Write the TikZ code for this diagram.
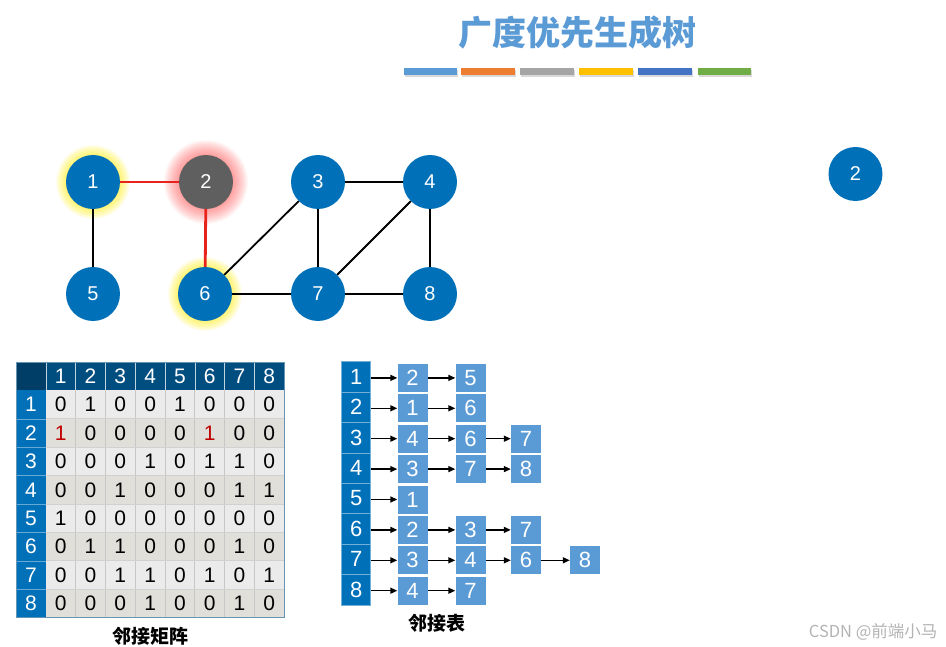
\documentclass[tikz,border=0pt]{standalone}
\usepackage{fontspec}
\setmainfont{Liberation Sans}
\newfontfamily\cjk{Noto Sans CJK SC}
\usetikzlibrary{arrows.meta}
\definecolor{nodeblue}{HTML}{0070B8}
\definecolor{hdrblue}{HTML}{004D80}
\definecolor{listblue}{HTML}{5B9BD5}
\definecolor{titleblue}{HTML}{5B9BD5}
\definecolor{darknode}{HTML}{5F5F5F}
\definecolor{rowa}{HTML}{EBEBEB}
\definecolor{rowb}{HTML}{E0DFDA}
\definecolor{mred}{HTML}{C00000}
\definecolor{edgered}{HTML}{E8231B}
\definecolor{barA}{HTML}{5B9BD5}
\definecolor{barB}{HTML}{ED7D31}
\definecolor{barC}{HTML}{A5A5A5}
\definecolor{barD}{HTML}{FFC000}
\definecolor{barE}{HTML}{4472C4}
\definecolor{barF}{HTML}{70AD47}
\definecolor{wmgray}{HTML}{B4B4B4}
\tikzset{
  gnode/.style={circle, fill=nodeblue, minimum size=54pt, inner sep=0pt, text=white, font=\fontsize{20}{20}\selectfont},
  gedge/.style={line width=1.8pt, black},
  redge/.style={line width=2.8pt, edgered},
  mcell/.style={inner sep=0pt, minimum width=29.8pt, minimum height=28.4pt, font=\fontsize{21}{21}\selectfont},
  lcell/.style={inner sep=0pt, minimum width=29pt, minimum height=30.4pt, fill=nodeblue, draw=nodeblue!55!white, line width=0.6pt, text=white, font=\fontsize{22}{22}\selectfont},
  lbox/.style={inner sep=0pt, minimum width=30pt, minimum height=28pt, fill=listblue, text=white, font=\fontsize{22}{22}\selectfont},
  larrow/.style={line width=1.4pt, -{Triangle[length=7pt,width=6pt]}},
  caption/.style={font=\cjk\bfseries\fontsize{19}{19}\selectfont}
}
\begin{document}
\begin{tikzpicture}[x=1pt,y=-1pt]
\useasboundingbox (0,0) rectangle (946,647);
\fill[white] (0,0) rectangle (946,647);

% title
\node[font=\cjk\bfseries\fontsize{34}{40}\selectfont, text=titleblue] (title) at (577,33) {广度优先生成树};
\foreach \xa/\xb/\col in {404/457/barA, 461/515/barB, 520/574/barC, 579/633/barD, 638/692/barE, 698/751/barF}{
  \fill[black!15] (\xa+1,70) rectangle (\xb+1,77);
  \fill[\col] (\xa,68) rectangle (\xb,75);
}

% glows
\foreach \r in {27,...,37}{
  \fill[yellow, opacity=0.065] (93,182) circle[radius=\r pt];
  \fill[yellow, opacity=0.065] (205,294) circle[radius=\r pt];
}
\foreach \r in {27,...,42}{
  \fill[red!75, opacity=0.038] (206,182) circle[radius=\r pt];
}

% graph nodes
\node[gnode] (n1) at (93,182) {1};
\node[gnode, fill=darknode] (n2) at (206,182) {2};
\node[gnode] (n3) at (318,182) {3};
\node[gnode] (n4) at (430,182) {4};
\node[gnode] (n5) at (93,294) {5};
\node[gnode] (n6) at (205,294) {6};
\node[gnode] (n7) at (318,294) {7};
\node[gnode] (n8) at (430,294) {8};
\node[gnode] (t2) at (855.5,174) {2};

% edges
\draw[redge] (n1) -- (n2);
\draw[redge] (n2) -- (n6);
\draw[gedge] (n1) -- (n5);
\draw[gedge] (n3) -- (n4);
\draw[gedge] (n3) -- (n6);
\draw[gedge] (n3) -- (n7);
\draw[gedge] (n4) -- (n7);
\draw[gedge] (n4) -- (n8);
\draw[gedge] (n6) -- (n7);
\draw[gedge] (n7) -- (n8);

% adjacency matrix
\fill[hdrblue] (16,362) rectangle (284.2,390.4);
\fill[hdrblue!80!black] (16,362) rectangle (45.8,390.4);
\fill[nodeblue] (16,390.4) rectangle (45.8,617.6);
\foreach \r in {1,...,8}{
  \pgfmathsetmacro\yt{362+\r*28.4}
  \pgfmathsetmacro\yb{362+(\r+1)*28.4}
  \ifodd\r
    \fill[rowa] (45.8,\yt) rectangle (284.2,\yb);
  \else
    \fill[rowb] (45.8,\yt) rectangle (284.2,\yb);
  \fi
}
\foreach \c in {2,...,8}{
  \draw[black!22, line width=0.7pt] (16+\c*29.8,390.4) -- (16+\c*29.8,617.6);
  \draw[white!75!hdrblue, line width=0.5pt] (16+\c*29.8,362) -- (16+\c*29.8,390.4);
}
\draw[white!75!hdrblue, line width=0.5pt] (45.8,362) -- (45.8,390.4);
\foreach \r in {2,...,8}{
  \draw[black!18, line width=0.7pt] (45.8,362+\r*28.4) -- (284.2,362+\r*28.4);
  \draw[nodeblue!60!white, line width=0.6pt] (16,362+\r*28.4) -- (45.8,362+\r*28.4);
}
\draw[hdrblue!60!white, line width=0.7pt] (16,362) rectangle (284.2,617.6);
\foreach \c in {1,...,8}{
  \node[mcell, text=white] (mh\c) at (16+\c*29.8+14.9,376.2) {\c};
  \node[mcell, text=white] (mr\c) at (30.9,362+\c*28.4+14.2) {\c};
}
\foreach \r/\row in {
  1/{0,1,0,0,1,0,0,0},
  2/{\textcolor{mred}{1},0,0,0,0,\textcolor{mred}{1},0,0},
  3/{0,0,0,1,0,1,1,0},
  4/{0,0,1,0,0,0,1,1},
  5/{1,0,0,0,0,0,0,0},
  6/{0,1,1,0,0,0,1,0},
  7/{0,0,1,1,0,1,0,1},
  8/{0,0,0,1,0,0,1,0}}{
  \foreach \v [count=\c] in \row {
    \node[mcell] (m\r-\c) at (16+\c*29.8+14.9,362+\r*28.4+14.2) {\v};
  }
}
\node[caption] (mcap) at (150,636) {邻接矩阵};

% adjacency list
\foreach \i in {1,...,8}{
  \node[lcell] (a\i) at (356.2,361.7+\i*30.4-15.2) {\i};
}
\foreach \i/\lst in {1/{2,5}, 2/{1,6}, 3/{4,6,7}, 4/{3,7,8}, 5/{1}, 6/{2,3,7}, 7/{3,4,6,8}, 8/{4,7}}{
  \foreach \v [count=\k] in \lst {
    \pgfmathsetmacro\bx{{412.5,470.5,526,585}[\k-1]}
    \node[lbox] (b\i-\k) at (\bx,361.7+\i*30.4-15.2+1) {\v};
    \ifnum\k=1
      \draw[larrow] (a\i.east |- b\i-\k.west) -- (b\i-\k.west);
    \else
      \pgfmathtruncatemacro\pk{\k-1}
      \draw[larrow] (b\i-\pk) -- (b\i-\k);
    \fi
  }
}
\node[caption] (lcap) at (437,623) {邻接表};

% watermark
\node[font=\cjk\fontsize{16.5}{16.5}\selectfont, text=wmgray, anchor=east] (wm) at (941,632) {CSDN @前端小马};
\end{tikzpicture}
\end{document}
